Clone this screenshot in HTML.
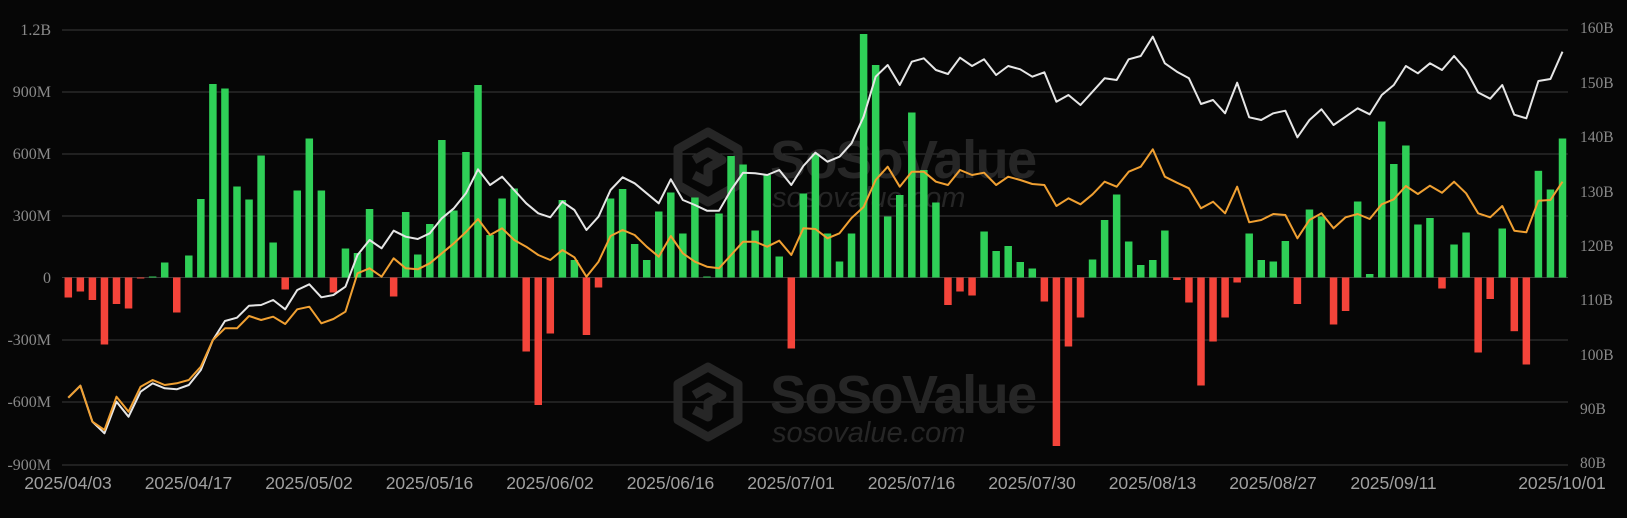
<!DOCTYPE html>
<html><head><meta charset="utf-8"><style>
html,body{margin:0;padding:0;background:#060606;}
svg{display:block;}
.g{fill:#2fcf57}.r{fill:#f4443a}
.la{font-family:"Liberation Serif",serif;font-size:16px;fill:#8a8a8a}
.dl{font-family:"Liberation Sans",sans-serif;font-size:17.5px;fill:#a0a0a0}
</style></head><body>
<svg width="1627" height="518" viewBox="0 0 1627 518" xmlns="http://www.w3.org/2000/svg">
<rect width="1627" height="518" fill="#060606"/>
<g stroke="#3a3a3a" stroke-width="1">
<line x1="62" x2="1568" y1="30" y2="30"/><line x1="62" x2="1568" y1="92" y2="92"/>
<line x1="62" x2="1568" y1="154" y2="154"/><line x1="62" x2="1568" y1="216" y2="216"/>
<line x1="62" x2="1568" y1="277.5" y2="277.5"/><line x1="62" x2="1568" y1="340" y2="340"/>
<line x1="62" x2="1568" y1="402" y2="402"/><line x1="62" x2="1568" y1="465" y2="465"/>
</g>
<g fill="none" stroke="#262626" stroke-width="9" stroke-linejoin="round">
<polygon points="708,132 738,149 738,185 708,202 678,185 678,149"/>
<path d="M694,160 L708,152 L722,160 L708,168 L708,182 L694,175"/>
<polygon points="708,367 738,384 738,420 708,437 678,420 678,384"/>
<path d="M694,395 L708,387 L722,395 L708,403 L708,417 L694,410"/>
</g>
<g font-family="Liberation Sans,sans-serif" fill="#262626">
<text x="770" y="178" font-size="54" font-weight="bold" letter-spacing="-1.5">SoSoValue</text>
<text x="772" y="207" font-size="29" font-style="italic">sosovalue.com</text>
<text x="770" y="413" font-size="54" font-weight="bold" letter-spacing="-1.5">SoSoValue</text>
<text x="772" y="442" font-size="29" font-style="italic">sosovalue.com</text>
</g>
<g>
<rect class="r" x="64.55" y="277.5" width="7.5" height="20"/>
<rect class="r" x="76.6" y="277.5" width="7.5" height="14"/>
<rect class="r" x="88.65" y="277.5" width="7.5" height="22.5"/>
<rect class="r" x="100.7" y="277.5" width="7.5" height="67"/>
<rect class="r" x="112.75" y="277.5" width="7.5" height="26.5"/>
<rect class="r" x="124.8" y="277.5" width="7.5" height="31"/>
<rect class="r" x="136.85" y="277.5" width="7.5" height="1"/>
<rect class="g" x="148.9" y="276.5" width="7.5" height="1"/>
<rect class="g" x="160.95" y="262.5" width="7.5" height="15"/>
<rect class="r" x="173" y="277.5" width="7.5" height="35"/>
<rect class="g" x="185.05" y="255.5" width="7.5" height="22"/>
<rect class="g" x="197.1" y="199" width="7.5" height="78.5"/>
<rect class="g" x="209.15" y="84" width="7.5" height="193.5"/>
<rect class="g" x="221.2" y="88.5" width="7.5" height="189"/>
<rect class="g" x="233.25" y="186.5" width="7.5" height="91"/>
<rect class="g" x="245.3" y="199.5" width="7.5" height="78"/>
<rect class="g" x="257.35" y="155.5" width="7.5" height="122"/>
<rect class="g" x="269.4" y="242.5" width="7.5" height="35"/>
<rect class="r" x="281.45" y="277.5" width="7.5" height="12"/>
<rect class="g" x="293.5" y="190.5" width="7.5" height="87"/>
<rect class="g" x="305.55" y="138.5" width="7.5" height="139"/>
<rect class="g" x="317.6" y="190.5" width="7.5" height="87"/>
<rect class="r" x="329.65" y="277.5" width="7.5" height="15"/>
<rect class="g" x="341.7" y="248.5" width="7.5" height="29"/>
<rect class="g" x="353.75" y="253" width="7.5" height="24.5"/>
<rect class="g" x="365.8" y="209" width="7.5" height="68.5"/>
<rect class="r" x="389.9" y="277.5" width="7.5" height="19"/>
<rect class="g" x="401.95" y="212" width="7.5" height="65.5"/>
<rect class="g" x="414" y="254.5" width="7.5" height="23"/>
<rect class="g" x="426.05" y="224" width="7.5" height="53.5"/>
<rect class="g" x="438.1" y="140" width="7.5" height="137.5"/>
<rect class="g" x="450.15" y="210.5" width="7.5" height="67"/>
<rect class="g" x="462.2" y="152" width="7.5" height="125.5"/>
<rect class="g" x="474.25" y="85" width="7.5" height="192.5"/>
<rect class="g" x="486.3" y="235" width="7.5" height="42.5"/>
<rect class="g" x="498.35" y="198.5" width="7.5" height="79"/>
<rect class="g" x="510.4" y="188.5" width="7.5" height="89"/>
<rect class="r" x="522.45" y="277.5" width="7.5" height="74"/>
<rect class="r" x="534.5" y="277.5" width="7.5" height="127.5"/>
<rect class="r" x="546.55" y="277.5" width="7.5" height="56"/>
<rect class="g" x="558.6" y="200" width="7.5" height="77.5"/>
<rect class="g" x="570.65" y="260" width="7.5" height="17.5"/>
<rect class="r" x="582.7" y="277.5" width="7.5" height="57.5"/>
<rect class="r" x="594.75" y="277.5" width="7.5" height="10"/>
<rect class="g" x="606.8" y="198.5" width="7.5" height="79"/>
<rect class="g" x="618.85" y="189" width="7.5" height="88.5"/>
<rect class="g" x="630.9" y="244" width="7.5" height="33.5"/>
<rect class="g" x="642.95" y="260" width="7.5" height="17.5"/>
<rect class="g" x="655" y="211.5" width="7.5" height="66"/>
<rect class="g" x="667.05" y="192.5" width="7.5" height="85"/>
<rect class="g" x="679.1" y="233.5" width="7.5" height="44"/>
<rect class="g" x="691.15" y="197.5" width="7.5" height="80"/>
<rect class="g" x="703.2" y="276.5" width="7.5" height="1"/>
<rect class="g" x="715.25" y="213.5" width="7.5" height="64"/>
<rect class="g" x="727.3" y="156" width="7.5" height="121.5"/>
<rect class="g" x="739.35" y="164.5" width="7.5" height="113"/>
<rect class="g" x="751.4" y="230.5" width="7.5" height="47"/>
<rect class="g" x="763.45" y="175" width="7.5" height="102.5"/>
<rect class="g" x="775.5" y="256.5" width="7.5" height="21"/>
<rect class="r" x="787.55" y="277.5" width="7.5" height="71"/>
<rect class="g" x="799.6" y="193.5" width="7.5" height="84"/>
<rect class="g" x="811.65" y="153.5" width="7.5" height="124"/>
<rect class="g" x="823.7" y="233.5" width="7.5" height="44"/>
<rect class="g" x="835.75" y="261.5" width="7.5" height="16"/>
<rect class="g" x="847.8" y="233.5" width="7.5" height="44"/>
<rect class="g" x="859.85" y="34" width="7.5" height="243.5"/>
<rect class="g" x="871.9" y="65" width="7.5" height="212.5"/>
<rect class="g" x="883.95" y="216.5" width="7.5" height="61"/>
<rect class="g" x="896" y="195" width="7.5" height="82.5"/>
<rect class="g" x="908.05" y="112.5" width="7.5" height="165"/>
<rect class="g" x="920.1" y="170" width="7.5" height="107.5"/>
<rect class="g" x="932.15" y="202.5" width="7.5" height="75"/>
<rect class="r" x="944.2" y="277.5" width="7.5" height="27.5"/>
<rect class="r" x="956.25" y="277.5" width="7.5" height="14"/>
<rect class="r" x="968.3" y="277.5" width="7.5" height="18"/>
<rect class="g" x="980.35" y="231.5" width="7.5" height="46"/>
<rect class="g" x="992.4" y="251" width="7.5" height="26.5"/>
<rect class="g" x="1004.45" y="246" width="7.5" height="31.5"/>
<rect class="g" x="1016.5" y="262" width="7.5" height="15.5"/>
<rect class="g" x="1028.55" y="268.5" width="7.5" height="9"/>
<rect class="r" x="1040.6" y="277.5" width="7.5" height="24"/>
<rect class="r" x="1052.65" y="277.5" width="7.5" height="168.5"/>
<rect class="r" x="1064.7" y="277.5" width="7.5" height="69"/>
<rect class="r" x="1076.75" y="277.5" width="7.5" height="40"/>
<rect class="g" x="1088.8" y="259.5" width="7.5" height="18"/>
<rect class="g" x="1100.85" y="220" width="7.5" height="57.5"/>
<rect class="g" x="1112.9" y="194.5" width="7.5" height="83"/>
<rect class="g" x="1124.95" y="241.5" width="7.5" height="36"/>
<rect class="g" x="1137" y="265" width="7.5" height="12.5"/>
<rect class="g" x="1149.05" y="260" width="7.5" height="17.5"/>
<rect class="g" x="1161.1" y="230.5" width="7.5" height="47"/>
<rect class="r" x="1173.15" y="277.5" width="7.5" height="2.5"/>
<rect class="r" x="1185.2" y="277.5" width="7.5" height="25"/>
<rect class="r" x="1197.25" y="277.5" width="7.5" height="108"/>
<rect class="r" x="1209.3" y="277.5" width="7.5" height="64"/>
<rect class="r" x="1221.35" y="277.5" width="7.5" height="40"/>
<rect class="r" x="1233.4" y="277.5" width="7.5" height="5"/>
<rect class="g" x="1245.45" y="233.5" width="7.5" height="44"/>
<rect class="g" x="1257.5" y="260" width="7.5" height="17.5"/>
<rect class="g" x="1269.55" y="261.5" width="7.5" height="16"/>
<rect class="g" x="1281.6" y="241" width="7.5" height="36.5"/>
<rect class="r" x="1293.65" y="277.5" width="7.5" height="26.5"/>
<rect class="g" x="1305.7" y="209.5" width="7.5" height="68"/>
<rect class="g" x="1317.75" y="216.5" width="7.5" height="61"/>
<rect class="r" x="1329.8" y="277.5" width="7.5" height="47"/>
<rect class="r" x="1341.85" y="277.5" width="7.5" height="33.5"/>
<rect class="g" x="1353.9" y="201.5" width="7.5" height="76"/>
<rect class="g" x="1365.95" y="274" width="7.5" height="3.5"/>
<rect class="g" x="1378" y="121.5" width="7.5" height="156"/>
<rect class="g" x="1390.05" y="164" width="7.5" height="113.5"/>
<rect class="g" x="1402.1" y="145.5" width="7.5" height="132"/>
<rect class="g" x="1414.15" y="224.5" width="7.5" height="53"/>
<rect class="g" x="1426.2" y="218" width="7.5" height="59.5"/>
<rect class="r" x="1438.25" y="277.5" width="7.5" height="11"/>
<rect class="g" x="1450.3" y="244.5" width="7.5" height="33"/>
<rect class="g" x="1462.35" y="232.5" width="7.5" height="45"/>
<rect class="r" x="1474.4" y="277.5" width="7.5" height="75"/>
<rect class="r" x="1486.45" y="277.5" width="7.5" height="21.5"/>
<rect class="g" x="1498.5" y="228.5" width="7.5" height="49"/>
<rect class="r" x="1510.55" y="277.5" width="7.5" height="53.7"/>
<rect class="r" x="1522.6" y="277.5" width="7.5" height="87"/>
<rect class="g" x="1534.65" y="170.8" width="7.5" height="106.7"/>
<rect class="g" x="1546.7" y="189.5" width="7.5" height="88"/>
<rect class="g" x="1558.75" y="138.5" width="7.5" height="139"/>
</g>
<g transform="translate(3.75,0)" fill="none" stroke-width="2" stroke-linejoin="round">
<polyline stroke="#e6e6e6" points="64.55,397.7 76.6,385.7 88.65,421.7 100.7,433.3 112.75,401.7 124.8,416.7 136.85,391.7 148.9,383.3 160.95,388.3 173,389.3 185.05,385 197.1,370 209.15,340 221.2,321 233.25,317.7 245.3,305.7 257.35,305 269.4,300 281.45,309.3 293.5,290 305.55,284.3 317.6,297.3 329.65,295 341.7,286.7 353.75,255 365.8,240 377.85,248.3 389.9,230.7 401.95,236.7 414,239 426.05,233.3 438.1,218.3 450.15,208.3 462.2,193.3 474.25,169.3 486.3,185 498.35,176.7 510.4,190 522.45,203.3 534.5,213.3 546.55,217.3 558.6,201.7 570.65,210 582.7,230 594.75,216.7 606.8,190 618.85,177.3 630.9,183.3 642.95,193.3 655,203.3 667.05,179.3 679.1,200 691.15,205 703.2,210.7 715.25,210.7 727.3,190 739.35,172.7 751.4,173.3 763.45,175 775.5,170 787.55,185 799.6,166 811.65,152.7 823.7,161.7 835.75,156.7 847.8,143.3 859.85,116.7 871.9,76.7 883.95,65 896,85 908.05,61.7 920.1,58.3 932.15,70 944.2,74 956.25,57.7 968.3,66 980.35,59.3 992.4,75 1004.45,66 1016.5,69.3 1028.55,76.7 1040.6,72.3 1052.65,101.7 1064.7,95 1076.75,105 1088.8,91.7 1100.85,78.3 1112.9,80 1124.95,59.3 1137,56 1149.05,36.7 1161.1,63.3 1173.15,71.7 1185.2,78.3 1197.25,104 1209.3,100 1221.35,113.3 1233.4,82.7 1245.45,117.3 1257.5,120 1269.55,113.3 1281.6,110.7 1293.65,137.3 1305.7,120 1317.75,109.3 1329.8,125 1341.85,116.7 1353.9,108.3 1365.95,114.3 1378,95 1390.05,85 1402.1,66 1414.15,73.3 1426.2,63.3 1438.25,70 1450.3,56 1462.35,70 1474.4,92.5 1486.45,98.7 1498.5,85 1510.55,114.7 1522.6,118.3 1534.65,81 1546.7,79 1558.75,51.7"/>
<polyline stroke="#f0a032" points="64.55,397.7 76.6,385.7 88.65,421.7 100.7,430 112.75,396.7 124.8,411.7 136.85,386.7 148.9,380 160.95,385 173,383.3 185.05,380 197.1,366.7 209.15,340 221.2,328.3 233.25,328.3 245.3,316 257.35,320 269.4,316.7 281.45,324 293.5,309.3 305.55,306.7 317.6,323.3 329.65,319 341.7,311.7 353.75,273.3 365.8,268.3 377.85,276.7 389.9,258.3 401.95,268.3 414,269.3 426.05,263.3 438.1,253.3 450.15,243.3 462.2,232 474.25,219 486.3,235 498.35,228.3 510.4,240 522.45,246.7 534.5,255 546.55,260 558.6,250 570.65,257.3 582.7,276.7 594.75,261.7 606.8,236 618.85,230 630.9,235 642.95,246.7 655,256.7 667.05,236 679.1,253.3 691.15,261.7 703.2,266.7 715.25,268.3 727.3,255 739.35,241.7 751.4,241.7 763.45,246.7 775.5,240.7 787.55,255 799.6,228.3 811.65,229 823.7,238.3 835.75,233.3 847.8,218 859.85,207 871.9,180 883.95,166.7 896,186.7 908.05,171.7 920.1,171.7 932.15,181.7 944.2,185 956.25,170 968.3,175 980.35,172.7 992.4,185 1004.45,176.7 1016.5,180 1028.55,184 1040.6,185 1052.65,206 1064.7,198.3 1076.75,204.3 1088.8,194.3 1100.85,181.7 1112.9,186.7 1124.95,171.7 1137,166.7 1149.05,149.3 1161.1,176.7 1173.15,182.7 1185.2,188.3 1197.25,208.3 1209.3,201.7 1221.35,213.3 1233.4,186.7 1245.45,222.3 1257.5,220 1269.55,214 1281.6,215 1293.65,238.3 1305.7,220 1317.75,213.3 1329.8,228.3 1341.85,217.3 1353.9,214 1365.95,219 1378,204.3 1390.05,199.3 1402.1,186 1414.15,194 1426.2,185.7 1438.25,192.7 1450.3,181.7 1462.35,193.3 1474.4,213.3 1486.45,217.3 1498.5,206 1510.55,230.7 1522.6,232.3 1534.65,200.7 1546.7,200 1558.75,181.7"/>
</g>
<g class="la" text-anchor="end">
<text x="51" y="35">1.2B</text><text x="51" y="97">900M</text><text x="51" y="159">600M</text>
<text x="51" y="221">300M</text><text x="51" y="283">0</text><text x="51" y="345">-300M</text>
<text x="51" y="407">-600M</text><text x="51" y="470">-900M</text>
</g>
<g class="la" style="font-size:15.5px">
<text x="1580" y="33">160B</text><text x="1580" y="88">150B</text><text x="1580" y="142">140B</text>
<text x="1580" y="197">130B</text><text x="1580" y="251">120B</text><text x="1580" y="305">110B</text>
<text x="1580" y="360">100B</text><text x="1580" y="414">90B</text><text x="1580" y="468">80B</text>
</g>
<g class="dl" text-anchor="middle">
<text x="68" y="489">2025/04/03</text><text x="188.5" y="489">2025/04/17</text>
<text x="309" y="489">2025/05/02</text><text x="429.5" y="489">2025/05/16</text>
<text x="550" y="489">2025/06/02</text><text x="670.5" y="489">2025/06/16</text>
<text x="791" y="489">2025/07/01</text><text x="911.5" y="489">2025/07/16</text>
<text x="1032" y="489">2025/07/30</text><text x="1152.5" y="489">2025/08/13</text>
<text x="1273" y="489">2025/08/27</text><text x="1393.5" y="489">2025/09/11</text>
<text x="1562" y="489">2025/10/01</text>
</g>
</svg>
</body></html>
